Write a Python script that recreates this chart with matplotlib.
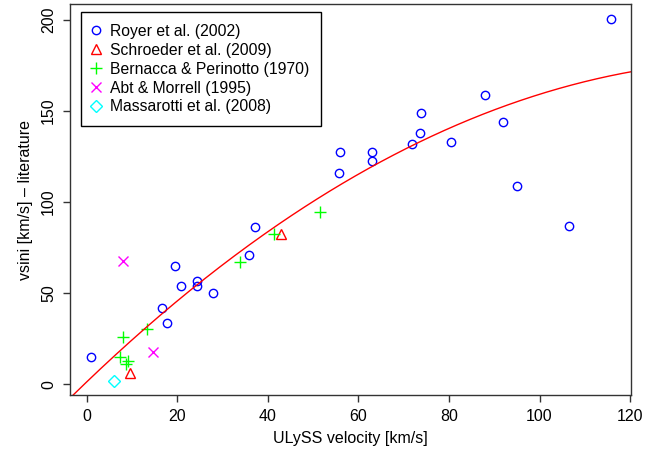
import numpy as np
import matplotlib
matplotlib.use('Agg')
import matplotlib.pyplot as plt

plt.rcParams['font.family'] = ['Liberation Sans', 'DejaVu Sans']

# data
royer_x = [0.9, 16.6, 17.7, 19.6, 20.8, 24.3, 24.4, 27.8, 35.9, 37.2, 55.9, 55.6,
           63.0, 63.0, 71.9, 73.7, 73.9, 80.5, 88.0, 91.9, 95.0, 106.6, 115.8]
royer_y = [14.8, 41.9, 33.7, 64.8, 53.8, 56.8, 53.8, 49.8, 70.9, 86.0, 127.6, 115.9,
           127.6, 122.5, 131.9, 137.7, 148.7, 132.8, 158.8, 143.8, 108.8, 86.8, 200.7]
schroeder_x = [42.9, 9.6]
schroeder_y = [82.2, 5.9]
bernacca_x = [8.0, 7.4, 9.2, 8.7, 13.4, 33.9, 41.4, 51.5]
bernacca_y = [25.7, 14.7, 12.8, 10.8, 30.0, 66.8, 82.4, 94.7]
abt_x = [7.95, 14.6]
abt_y = [67.8, 17.6]
massarotti_x = [6.0]
massarotti_y = [1.6]

# quadratic fit shown as red curve: y = c0 + c1*x + c2*x^2
fit_coef = [1.22, 2.383, -0.00804]

fig = plt.figure(figsize=(6.67, 4.54), dpi=100)
ax = fig.add_axes([70/667, 59/454, 561/667, 391/454])

ax.plot(royer_x, royer_y, 'o', mfc='none', mec='#0000FF', ms=6, mew=1,
        label='Royer et al. (2002)')
ax.plot(schroeder_x, schroeder_y, '^', mfc='none', mec='#FF0000', ms=7.5, mew=1,
        label='Schroeder et al. (2009)')
ax.plot(bernacca_x, bernacca_y, '+', color='#00FF00', ms=9, mew=1,
        label='Bernacca & Perinotto (1970)')
ax.plot(abt_x, abt_y, 'x', color='#FF00FF', ms=6.5, mew=1,
        label='Abt & Morrell (1995)')
ax.plot(massarotti_x, massarotti_y, 'D', mfc='none', mec='#00FFFF', ms=6.5, mew=1,
        label='Massarotti et al. (2008)')

xx = np.linspace(-10, 130, 300)
ax.plot(xx, np.polyval(fit_coef[::-1], xx), color='#FF0000', lw=1)

ax.set_xlim(-3.7, 120.2)
ax.set_ylim(-6.0, 208.7)
ax.set_xticks([0, 20, 40, 60, 80, 100, 120])
ax.set_yticks([0, 50, 100, 150, 200])
ax.tick_params(direction='out', length=5, width=1, labelsize=11.5, color='#333333')
ax.tick_params(axis='y', pad=5)
ax.tick_params(axis='x', pad=5)
for lab in ax.get_yticklabels():
    lab.set_rotation(90)
    lab.set_va('center')
for s in ax.spines.values():
    s.set_color('#333333')
    s.set_linewidth(1)

ax.set_xlabel('ULySS velocity [km/s]', fontsize=11.5, labelpad=5)
ax.set_ylabel('vsini [km/s] \u2013 literature', fontsize=11.5, labelpad=6)

leg = ax.legend(loc='upper left', bbox_to_anchor=(11/561, 1 - 8/391), borderaxespad=0,
                fontsize=11.3, fancybox=False, framealpha=1, edgecolor='black',
                handlelength=0.45, handletextpad=0.65, labelspacing=0.25, borderpad=0.75,
                numpoints=1)
leg.get_frame().set_linewidth(1)

fig.savefig('out.png', dpi=100)
